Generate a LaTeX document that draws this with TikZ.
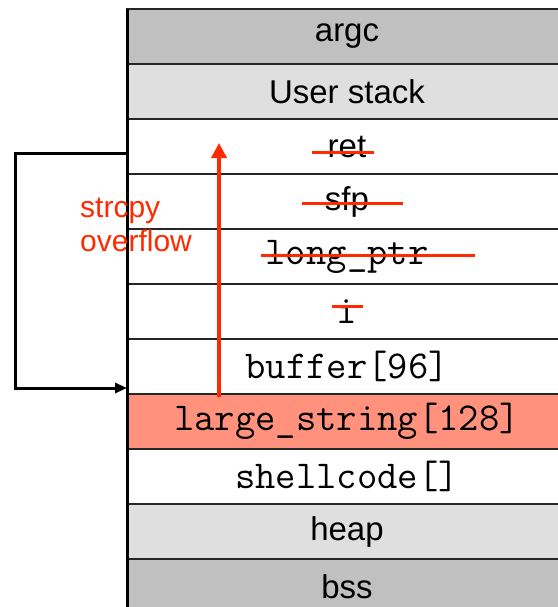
\documentclass[tikz,border=0pt]{standalone}
\usepackage{fontspec}
\setmainfont{Liberation Sans}
\usetikzlibrary{positioning,arrows.meta}
\definecolor{seggray}{HTML}{BFC0BF}
\definecolor{segpale}{HTML}{DEDFDE}
\definecolor{hotbuf}{HTML}{FF917D}
\definecolor{ovfred}{HTML}{FF2A00}

\begin{document}
\begin{tikzpicture}
	[x=1pt,y=-1pt,node distance=0pt,
	cell/.style={rectangle,draw=black!85,line width=1.5pt,outer sep=0pt,minimum width=440pt,minimum height=55pt,inner sep=0pt,font=\fontsize{33}{34}\selectfont},
	code/.style={cell,font=\ttfamily\fontsize{39.5}{41}\selectfont},
	strike/.style={draw=ovfred,line width=3pt},
	ovftext/.style={text=ovfred,align=left,inner sep=0pt,font=\fontsize{30}{34.5}\selectfont}]
	\useasboundingbox (0,0) rectangle (557,607);
	\node[cell,fill=seggray] (argc)  at (347,36.5) {argc};
	\node[cell,fill=segpale] (ustk)  [below=of argc] {User stack};
	\node[cell]              (ret)   [below=of ustk] {ret};
	\node[cell]              (sfp)   [below=of ret] {sfp};
	\node[code]              (lptr)  [below=of sfp] {long\_ptr};
	\node[code]              (ivar)  [below=of lptr] {i};
	\node[code]              (buf)   [below=of ivar] {buffer[96]};
	\node[code,fill=hotbuf]  (large) [below=of buf] {large\_string[128]};
	\node[code]              (shell) [below=of large] {shellcode[]};
	\node[cell,fill=segpale] (heap)  [below=of shell] {heap};
	\node[cell,fill=seggray] (bss)   [below=of heap] {bss};
	\draw [line width=3pt] (argc.north west) -- (bss.south west);
	% crossed out
	\draw [strike] ([xshift=-35pt,yshift=-6pt]ret.center) -- ++(62,0);
	\draw [strike] ([xshift=-45pt,yshift=-2pt]sfp.center) -- ++(101,0);
	\draw [strike] ([xshift=-86pt,yshift=1.5pt]lptr.center) -- ++(214,0);
	\draw [strike] ([xshift=-15pt,yshift=5.5pt]ivar.center) -- ++(31,0);
	% overflow
	\coordinate (ovf0) at (219,397);
	\coordinate (ovf1) at (219,143);
	\draw [ovfred,line width=4pt,-{Triangle[width=15pt,length=15pt]}] (ovf0) -- (ovf1);
	\node[ovftext] (ovf) [anchor=base west] at (80,251.5) {strcpy\\overflow};
	\draw [line width=3pt,-{Triangle[width=10pt,length=12pt]}]
		([yshift=-6.5pt]ret.west) -- ++(-112,0) |- ([yshift=-21.5pt]buf.west);
\end{tikzpicture}
\end{document}
